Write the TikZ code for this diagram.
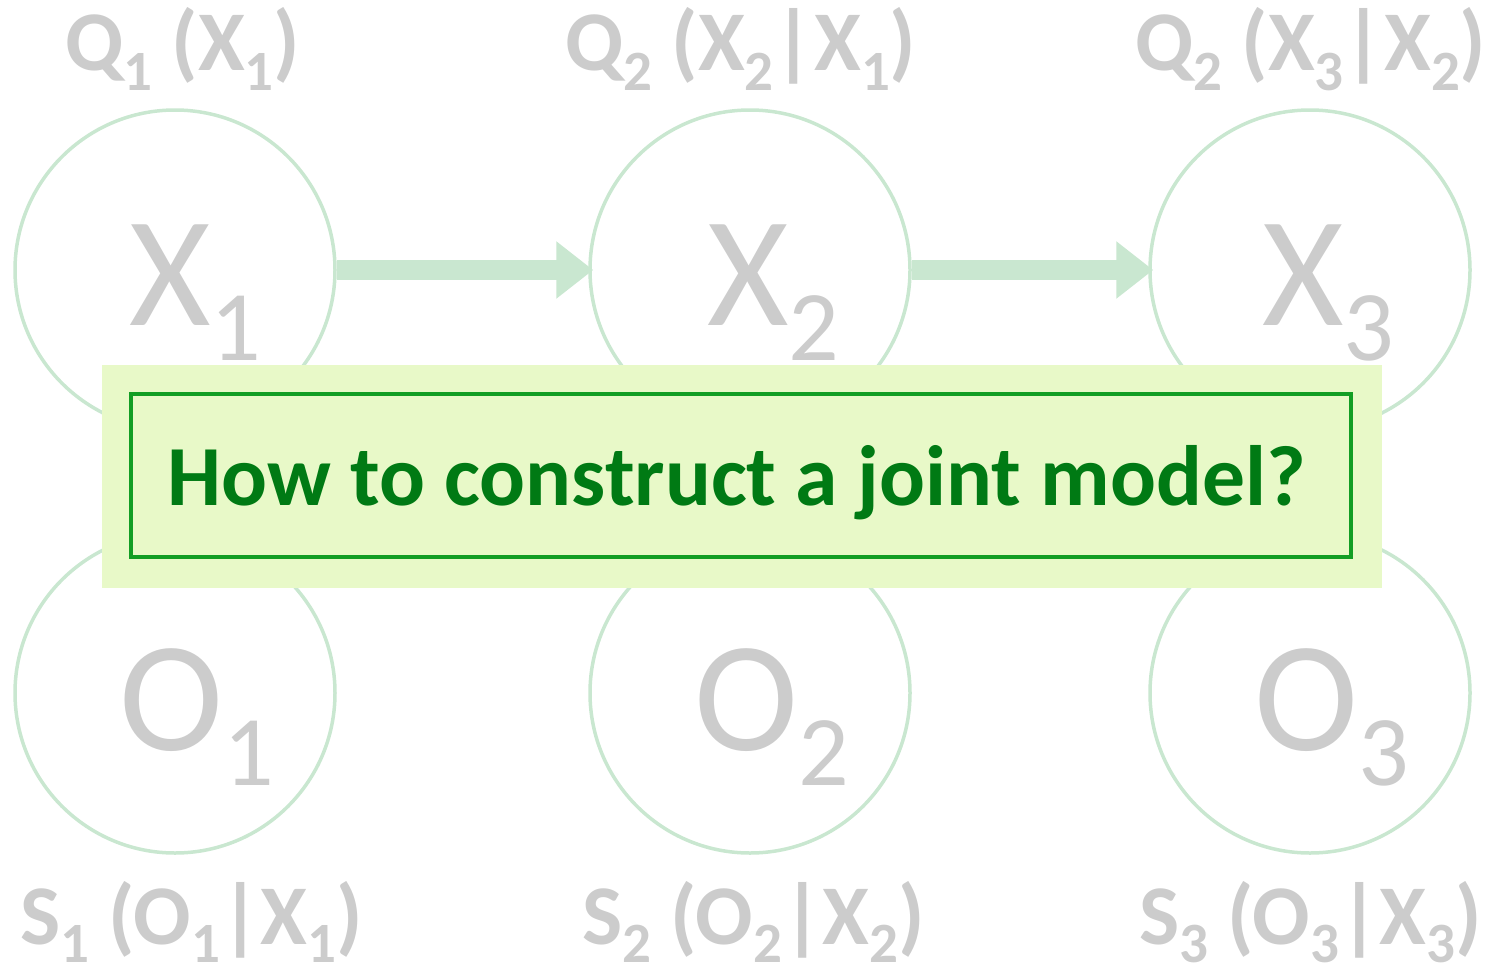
\documentclass[tikz,border=0pt]{standalone}
\usepackage{fontspec}
\setmainfont{Carlito}
\usetikzlibrary{arrows.meta}
\definecolor{lgray}{HTML}{CCCCCC}
\definecolor{cgreen}{HTML}{C9E7D0}
\definecolor{boxfill}{HTML}{E8F9C8}
\definecolor{boxline}{HTML}{129E24}
\definecolor{boxtext}{HTML}{007A14}
\newcommand\sbA[1]{\raisebox{-20pt}{\fontsize{57}{57}\selectfont #1}}
\newcommand\sbB[1]{\raisebox{-18pt}[30pt][20pt]{\fontsize{57}{57}\selectfont #1}}
\newcommand\sbC[1]{\raisebox{-35pt}{\fontsize{100}{100}\selectfont #1}}
\tikzset{
  var/.style={circle, draw=cgreen, line width=3.5pt, minimum size=320pt, inner sep=0pt},
  arr/.style={draw=cgreen, line width=20pt, shorten >=-5pt, -{Triangle[length=37pt 0 0, width=55pt 0 0]}},
  big/.style={text=lgray, inner sep=0pt, anchor=base west, font=\fontsize{157}{157}\selectfont},
  lab/.style={text=lgray, inner sep=0pt, anchor=base west, font=\bfseries\fontsize{85}{85}\selectfont},
  outerbox/.style={fill=boxfill, draw=none},
  innerbox/.style={draw=boxline, line width=4pt},
  qtext/.style={text=boxtext, inner sep=0pt, anchor=base west, font=\bfseries\fontsize{85.6}{85.6}\selectfont}
}
\begin{document}
\begin{tikzpicture}[x=1pt,y=-1pt]
\useasboundingbox (0,0) rectangle (1493,969);
% circles
\node[var] (x1) at (175,270) {};
\node[var] (x2) at (750,270) {};
\node[var] (x3) at (1310,270) {};
\node[var] (o1) at (175,693) {};
\node[var] (o2) at (750,693) {};
\node[var] (o3) at (1310,693) {};
% arrows
\draw[arr] (x1) -- (x2);
\draw[arr] (x2) -- (x3);
% big labels
\node[big] (lx1) at (129,325) {X\sbC{1}};
\node[big] (lx2) at (707,325) {X\sbC{2}};
\node[big] (lx3) at (1262,325) {X\sbC{3}};
\node[big] (lo1) at (119,750) {O\sbC{1}};
\node[big] (lo2) at (694,750) {O\sbC{2}};
\node[big] (lo3) at (1254,750) {O\sbC{3}};
% top labels
\node[lab] (q1) at (65,70) {Q\sbA{1} (X\sbA{1})};
\node[lab] (q2) at (565,70) {Q\sbA{2} (X\sbA{2}|X\sbA{1})};
\node[lab] (q3) at (1135,70) {Q\sbA{2} (X\sbA{3}|X\sbA{2})};
% bottom labels
\node[lab] (s1) at (20,944) {S\sbB{1} (O\sbB{1}|X\sbB{1})};
\node[lab] (s2) at (582,944) {S\sbB{2} (O\sbB{2}|X\sbB{2})};
\node[lab] (s3) at (1139,944) {S\sbB{3} (O\sbB{3}|X\sbB{3})};
% overlay box
\path[outerbox] (102,365) rectangle (1382,588);
\draw[innerbox] (131,394) rectangle (1351,557);
\node[qtext] (q) at (167,505) {How to construct a joint model?};
\end{tikzpicture}
\end{document}
